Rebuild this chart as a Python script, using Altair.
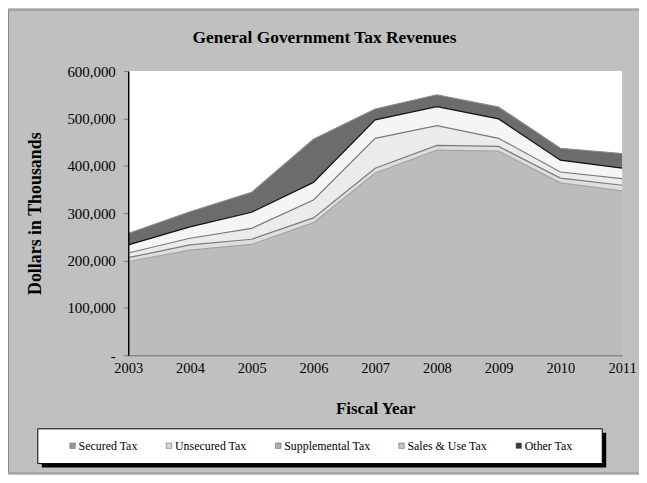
import altair as alt
import pandas as pd

years = [2003, 2004, 2005, 2006, 2007, 2008, 2009, 2010, 2011]
series = ["Secured Tax", "Unsecured Tax", "Supplemental Tax", "Sales & Use Tax", "Other Tax"]
secured = [198000, 222000, 234000, 280000, 385000, 433000, 431000, 364000, 347000]
unsecured = [8000, 11000, 11000, 10000, 10000, 10000, 10000, 10000, 12000]
supplemental = [10000, 14000, 23000, 38000, 63000, 42000, 17000, 13000, 14000]
sales_use = [17000, 24000, 34000, 37000, 39000, 40000, 41000, 25000, 22000]
other = [24000, 32000, 42000, 91000, 23000, 25000, 25000, 25000, 31000]
y_ticks = [0, 100000, 200000, 300000, 400000, 500000, 600000]

fills = ["#bcbcbc", "#dedede", "#ebebeb", "#f5f5f5", "#6c6c6c"]
strokes = ["#a4a4a4", "#7a7a7a", "#7a7a7a", "#111111", "#8a8a8a"]
legend_fills = ["#9a9a9a", "#d6d6d6", "#b0b0b0", "#c4c4c4", "#3c3c3c"]

rows = []
for rank, (name, vals) in enumerate(zip(series, [secured, unsecured, supplemental, sales_use, other])):
    for yr, v in zip(years, vals):
        rows.append({"year": yr, "series": name, "value": v, "rank": rank})
df = pd.DataFrame(rows)

SERIF = "Liberation Serif"
W, H = 497, 286

xscale = alt.Scale(domain=[2003, 2011], nice=False, zero=False)
yscale = alt.Scale(domain=[0, 600000], nice=False)

xaxis = alt.Axis(values=years, format="d", title="Fiscal Year",
                 labelFontSize=14.5, labelPadding=6, tickSize=0,
                 domainColor="#555555", titleFontSize=17,
                 titlePadding=26, labelFlush=False, grid=False)
yaxis = alt.Axis(values=y_ticks, title="Dollars in Thousands",
                 labelExpr="datum.value == 0 ? '-' : format(datum.value, ',')",
                 labelFontSize=15, tickSize=5, tickColor="#777777",
                 labelPadding=8, domainColor="#000000", domainWidth=1.5,
                 titleFontSize=18, titlePadding=23, grid=False, zindex=1)

base = alt.Chart(df)

area = base.mark_area(interpolate="linear", opacity=1).encode(
    x=alt.X("year:Q", scale=xscale, axis=xaxis),
    y=alt.Y("value:Q", stack="zero", scale=yscale, axis=yaxis),
    fill=alt.Fill("series:N", sort=series,
                  scale=alt.Scale(domain=series, range=fills), legend=None),
    order=alt.Order("rank:Q", sort="ascending"),
)

lines = base.transform_stack(
    stack="value", groupby=["year"], as_=["v0", "v1"],
    sort=[alt.SortField("rank", order="ascending")]
).mark_line(strokeWidth=1.2).encode(
    x=alt.X("year:Q", scale=xscale, axis=xaxis),
    y=alt.Y("v1:Q", scale=yscale, axis=yaxis),
    stroke=alt.Stroke("series:N", scale=alt.Scale(domain=series, range=strokes), legend=None),
    detail="series:N",
)

keys = base.transform_filter(alt.datum.year == 2003).transform_calculate(
    tax="datum.series"
).mark_square(opacity=0, size=1).encode(
    x=alt.X("year:Q", scale=xscale, axis=xaxis),
    y=alt.Y("value:Q", scale=yscale, axis=yaxis),
    color=alt.Color("tax:N", sort=series,
                    scale=alt.Scale(domain=series, range=legend_fills),
                    legend=alt.Legend(orient="none", legendX=-62, legendY=371,
                                      direction="horizontal", title=None,
                                      symbolType="square", symbolSize=30,
                                      symbolOpacity=1,
                                      symbolStrokeColor="#555555", symbolStrokeWidth=0.5,
                                      labelFontSize=12, labelFont=SERIF,
                                      labelColor="#000000",
                                      columnPadding=25, symbolOffset=0,
                                      labelOffset=0, padding=0, zindex=2)),
)

one = pd.DataFrame({"k": [0]})
shadow = alt.Chart(one).mark_rect(fill="#000000").encode(
    x=alt.value(-87), x2=alt.value(481), y=alt.value(364), y2=alt.value(399))
box = alt.Chart(one).mark_rect(fill="#ffffff", stroke="#000000", strokeWidth=1).encode(
    x=alt.value(-91), x2=alt.value(477), y=alt.value(360), y2=alt.value(395))
border = alt.Chart(one).mark_rect(fillOpacity=0, stroke="#8a8a8a", strokeWidth=1).encode(
    x=alt.value(-120.5), x2=alt.value(530), y=alt.value(-61.5), y2=alt.value(404.5))

chart = alt.layer(border, area, lines, keys, shadow, box).resolve_legend(
    color="independent", fill="independent", stroke="independent"
).properties(
    width=W, height=H,
    title=alt.TitleParams("General Government Tax Revenues", fontSize=17.5,
                          font=SERIF, fontWeight="bold", anchor="middle",
                          frame="group", baseline="bottom",
                          dx=-51, offset=-55, color="#000000"),
    autosize=alt.AutoSizeParams(type="none"),
    padding={"left": 121, "top": 62, "right": 17, "bottom": 119},
).configure(
    background="#c0c0c0",
).configure_view(
    fill="#ffffff", strokeWidth=0,
).configure_axis(
    labelFont=SERIF, titleFont=SERIF, labelColor="#000000", titleColor="#000000",
    titleFontWeight="bold",
)

chart.save("out.html", embed_options={"renderer": "svg", "actions": False})
